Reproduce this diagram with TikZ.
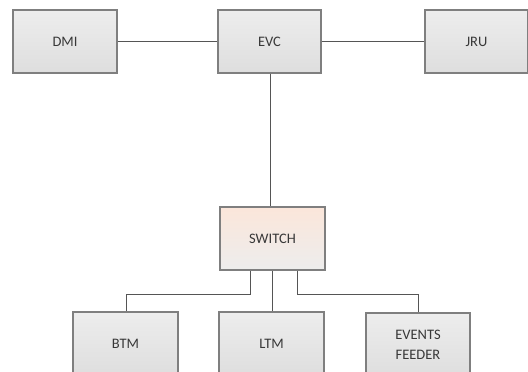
\documentclass[tikz,border=0pt]{standalone}
\usepackage{fontspec}
\setmainfont{Carlito}
\usetikzlibrary{positioning}
\definecolor{boxedge}{HTML}{7F7F7F}
\definecolor{boxtop}{HTML}{EDEDED}
\definecolor{boxbot}{HTML}{DEDEDE}
\definecolor{swtop}{HTML}{FBE6DA}
\definecolor{swbot}{HTML}{EDEDED}
\definecolor{txt}{HTML}{383838}
\definecolor{wire}{HTML}{555555}
\tikzset{
  unit/.style={draw=boxedge, line width=1.2pt, top color=boxtop, bottom color=boxbot,
    minimum width=104pt, minimum height=63pt, inner sep=0pt, align=center,
    text=txt, font=\fontsize{14.5}{20}\selectfont, anchor=center},
  swunit/.style={unit, top color=swtop, bottom color=swbot, minimum width=105pt},
  wireline/.style={draw=wire, line width=1pt}
}
\begin{document}
\begin{tikzpicture}[x=1pt,y=-1pt]
\useasboundingbox (0,0) rectangle (528,372);
\clip (0,0) rectangle (528,372);
\node[unit] (dmi) at (65,41.5) {DMI};
\node[unit, minimum width=103pt] (evc) at (269.5,41.5) {EVC};
\node[unit, minimum width=103pt] (jru) at (476.5,41.5) {JRU};
\node[swunit] (sw) at (272.5,238.5) {SWITCH};
\node[unit, minimum width=105pt] (btm) at (125.5,343.5) {BTM};
\node[unit, minimum width=105pt] (ltm) at (271.5,343.5) {LTM};
\node[unit] (ev) at (418,344.5) {EVENTS\\FEEDER};
\coordinate (bl) at (126,294);
\coordinate (br) at (418,294);
\draw[wireline] (dmi.east) -- (evc.west);
\draw[wireline] (evc.east) -- (jru.west);
\draw[wireline] (evc.south -| sw.north) ++(-2.5,0) coordinate (evcs) -- (evcs |- sw.north);
\draw[wireline] (sw.south) ++(-22.5,0) coordinate (swl) -- (swl |- bl) -- (bl) -- (bl |- btm.north);
\draw[wireline] (sw.south) ++(-0.5,0) coordinate (swm) -- (swm |- ltm.north);
\draw[wireline] (sw.south) ++(24.5,0) coordinate (swr) -- (swr |- br) -- (br) -- (br |- ev.north);
\end{tikzpicture}
\end{document}
